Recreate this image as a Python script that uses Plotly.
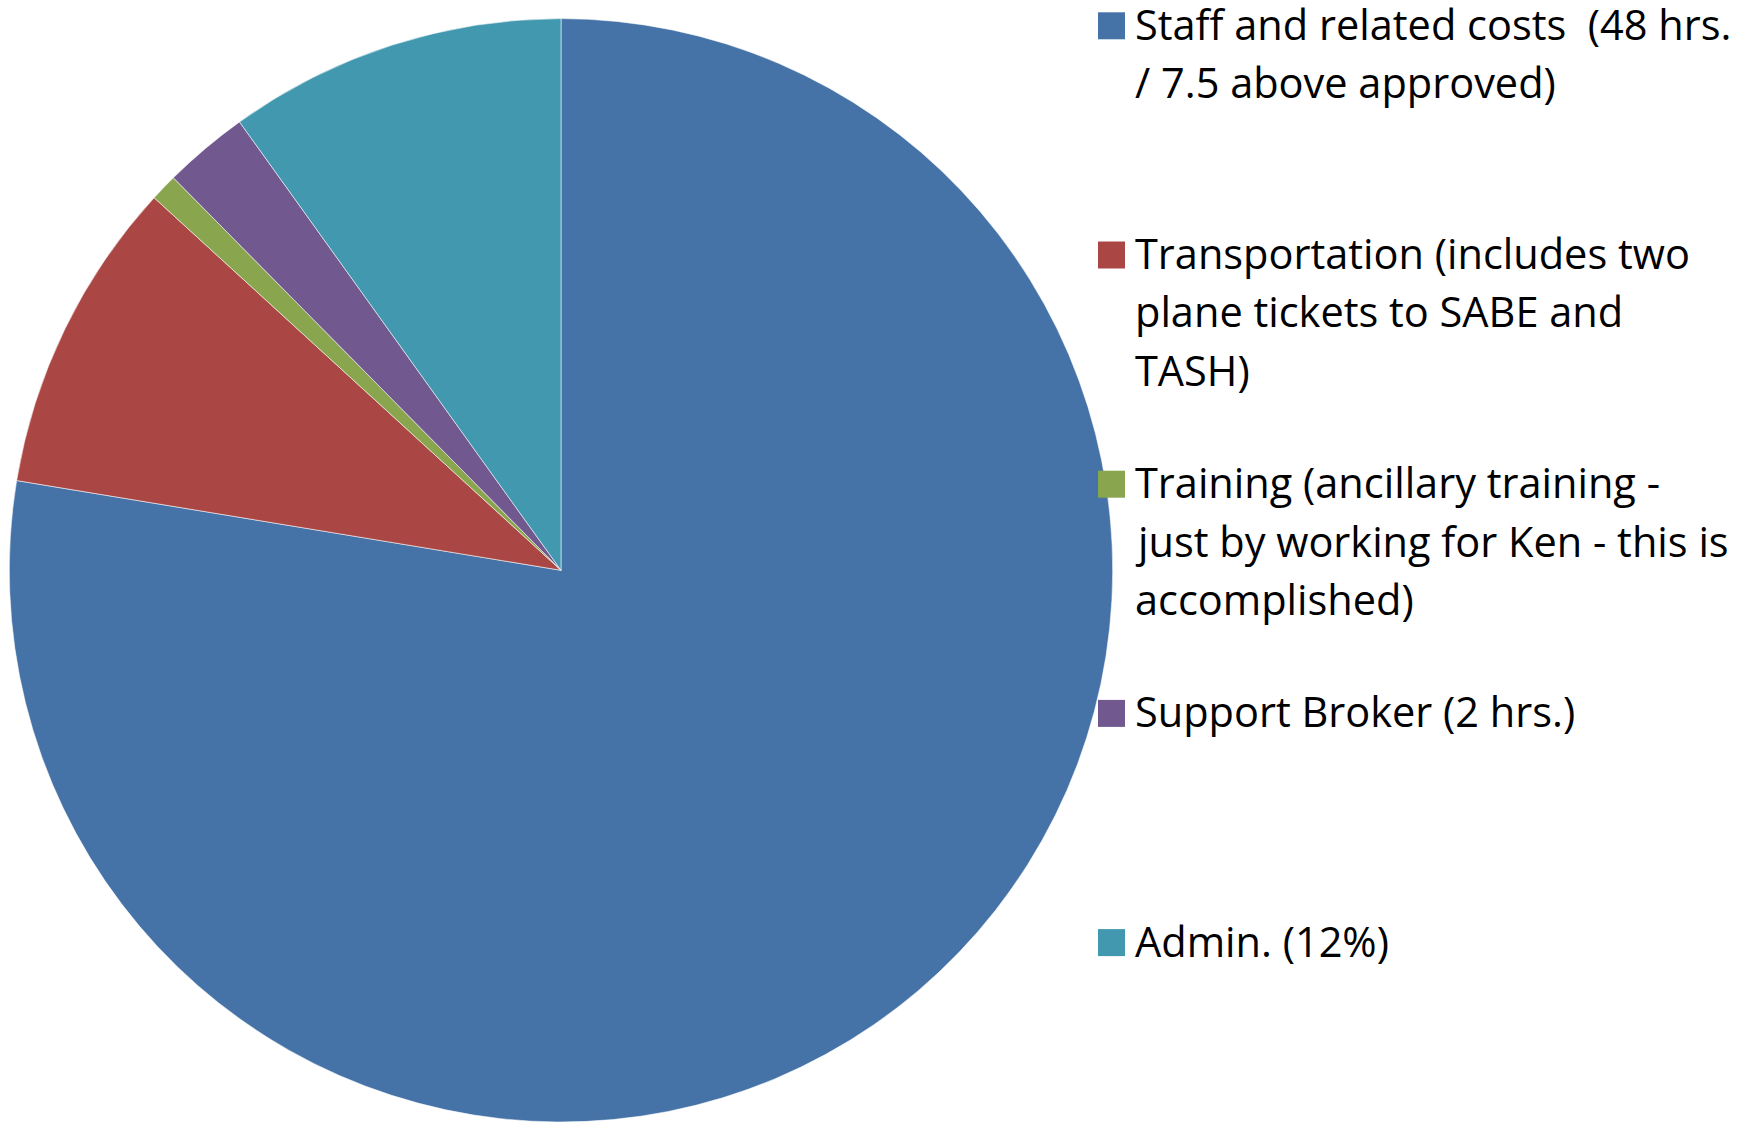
import plotly.graph_objects as go

# ---------------------------------------------------------------
# Data (share of budget, clockwise from 12 o'clock)
# ---------------------------------------------------------------
categories = ["Staff", "Transportation", "Training", "Support Broker", "Admin"]
values = [77.6, 9.2, 0.8, 2.5, 9.9]
colors = ["#4572A7", "#AA4643", "#89A54E", "#71588F", "#4198AF"]

# legend text, already wrapped the way the original shows it
legend_lines = [
    ["Staff and related costs &nbsp;(48 hrs.", "/ 7.5 above approved)"],
    ["Transportation (includes two", "plane tickets to SABE and", "TASH)"],
    ["Training (ancillary training -", "just by working for Ken - this is", "accomplished)"],
    ["Support Broker (2 hrs.)"],
    ["Admin. (12%)"],
]

W, H = 1752, 1122


def px_x(v):
    return v / W


def px_y(v):
    return 1 - v / H


fig = go.Figure()

fig.add_trace(go.Pie(
    labels=categories,
    values=values,
    sort=False,
    direction="clockwise",
    rotation=0,
    textinfo="none",
    marker=dict(colors=colors, line=dict(color="rgba(255,255,255,0.55)", width=1)),
    domain=dict(x=[px_x(9), px_x(9 + 1104)], y=[0, px_y(18.6)]),
    showlegend=False,
))

# ---------------------------------------------------------------
# Legend drawn by hand (big square keys, fixed spacing between items)
# ---------------------------------------------------------------
first_y = 25.8      # centre of the first legend row, px from top
item_gap = 229.2    # distance between legend items
line_gap = 58.3     # distance between wrapped lines
key_x0, key_size = 1098, 27
text_x = 1134

shapes = []
annotations = []
for i, lines in enumerate(legend_lines):
    cy = first_y + i * item_gap
    shapes.append(dict(
        type="rect", xref="paper", yref="paper",
        x0=px_x(key_x0), x1=px_x(key_x0 + key_size),
        y0=px_y(cy + key_size / 2), y1=px_y(cy - key_size / 2),
        fillcolor=colors[i], line=dict(width=0),
    ))
    for j, txt in enumerate(lines):
        ly = cy + j * line_gap - 2
        annotations.append(dict(
            text=txt, xref="paper", yref="paper",
            x=px_x(text_x), y=px_y(ly),
            xanchor="left", yanchor="middle",
            showarrow=False, borderpad=0,
            font=dict(family="Open Sans, Lato, sans-serif", size=41.5, color="#000000"),
        ))

fig.update_layout(
    width=W, height=H,
    margin=dict(l=0, r=0, t=0, b=0),
    paper_bgcolor="white",
    plot_bgcolor="white",
    shapes=shapes,
    annotations=annotations,
)

# drop the default 8px body margin so the figure sits flush in the window
fig.write_html(
    "out.html",
    config={"displayModeBar": False},
    post_script="document.body.style.margin = '0';",
)
